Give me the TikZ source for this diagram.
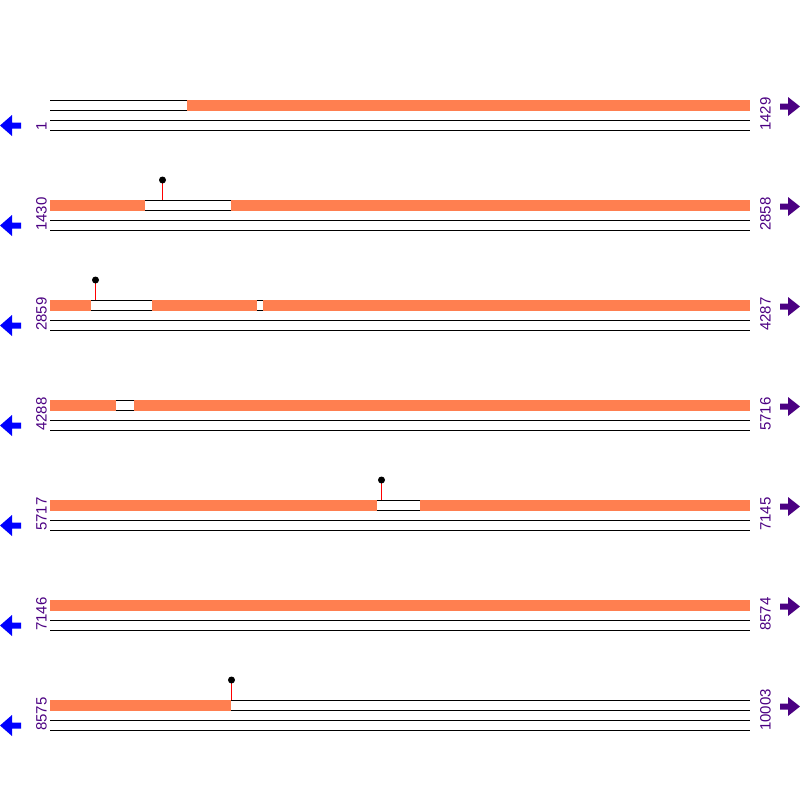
\documentclass[tikz,border=0pt]{standalone}
\usepackage{fontspec}
\setmainfont{Liberation Sans}
\definecolor{seg}{HTML}{FF7F50}
\definecolor{lab}{HTML}{4B0082}
\definecolor{larr}{HTML}{0000FF}
\definecolor{rarr}{HTML}{4B0082}
\begin{document}
\begin{tikzpicture}[x=1pt,y=-1pt,
  strand/.style={draw=black,line width=1pt},
  orangebox/.style={fill=seg,draw=none},
  stick/.style={draw=red,line width=1pt},
  head/.style={fill=black},
  numlab/.style={text=lab,font=\fontsize{15}{15}\selectfont,rotate=90,anchor=base west,inner sep=0pt}]
\useasboundingbox (0,0) rectangle (800,800);
% rows: base y
\foreach \r/\left/\right in {100/1/1429,200/1430/2858,300/2859/4287,400/4288/5716,500/5717/7145,600/7146/8574,700/8575/10003}{
  \draw[strand] (50,\r+0.5) -- (750,\r+0.5);
  \draw[strand] (50,\r+10.5) -- (750,\r+10.5);
  \draw[strand] (50,\r+20.5) -- (750,\r+20.5);
  \draw[strand] (50,\r+30.5) -- (750,\r+30.5);
  \node[numlab] (L\r) at (46.5,\r+31) {\left};
  \node[numlab] (R\r) at (770.5,\r+31) {\right};
  \fill[larr] (0,\r+25.5) -- (12,\r+15) -- (12,\r+22.5) -- (21,\r+22.5) -- (21,\r+28.5) -- (12,\r+28.5) -- (12,\r+36) -- cycle;
  \fill[rarr] (800,\r+6.5) -- (788,\r-3) -- (788,\r+3.5) -- (780,\r+3.5) -- (780,\r+9.5) -- (788,\r+9.5) -- (788,\r+16) -- cycle;
}
% orange segments
\fill[orangebox] (187,100) rectangle (750,111);
\fill[orangebox] (50,200) rectangle (145,211);
\fill[orangebox] (231,200) rectangle (750,211);
\fill[orangebox] (50,300) rectangle (91,311);
\fill[orangebox] (152,300) rectangle (257,311);
\fill[orangebox] (263,300) rectangle (750,311);
\fill[orangebox] (50,400) rectangle (116,411);
\fill[orangebox] (134,400) rectangle (750,411);
\fill[orangebox] (50,500) rectangle (377,511);
\fill[orangebox] (420,500) rectangle (750,511);
\fill[orangebox] (50,600) rectangle (750,611);
\fill[orangebox] (50,700) rectangle (231,711);
% lollipops
\foreach \x/\y in {162.5/200,95.5/300,381.5/500,231.5/700}{
  \draw[stick] (\x,\y-20) -- (\x,\y);
  \fill[head] (\x,\y-20) circle (3.5);
}
\end{tikzpicture}
\end{document}
